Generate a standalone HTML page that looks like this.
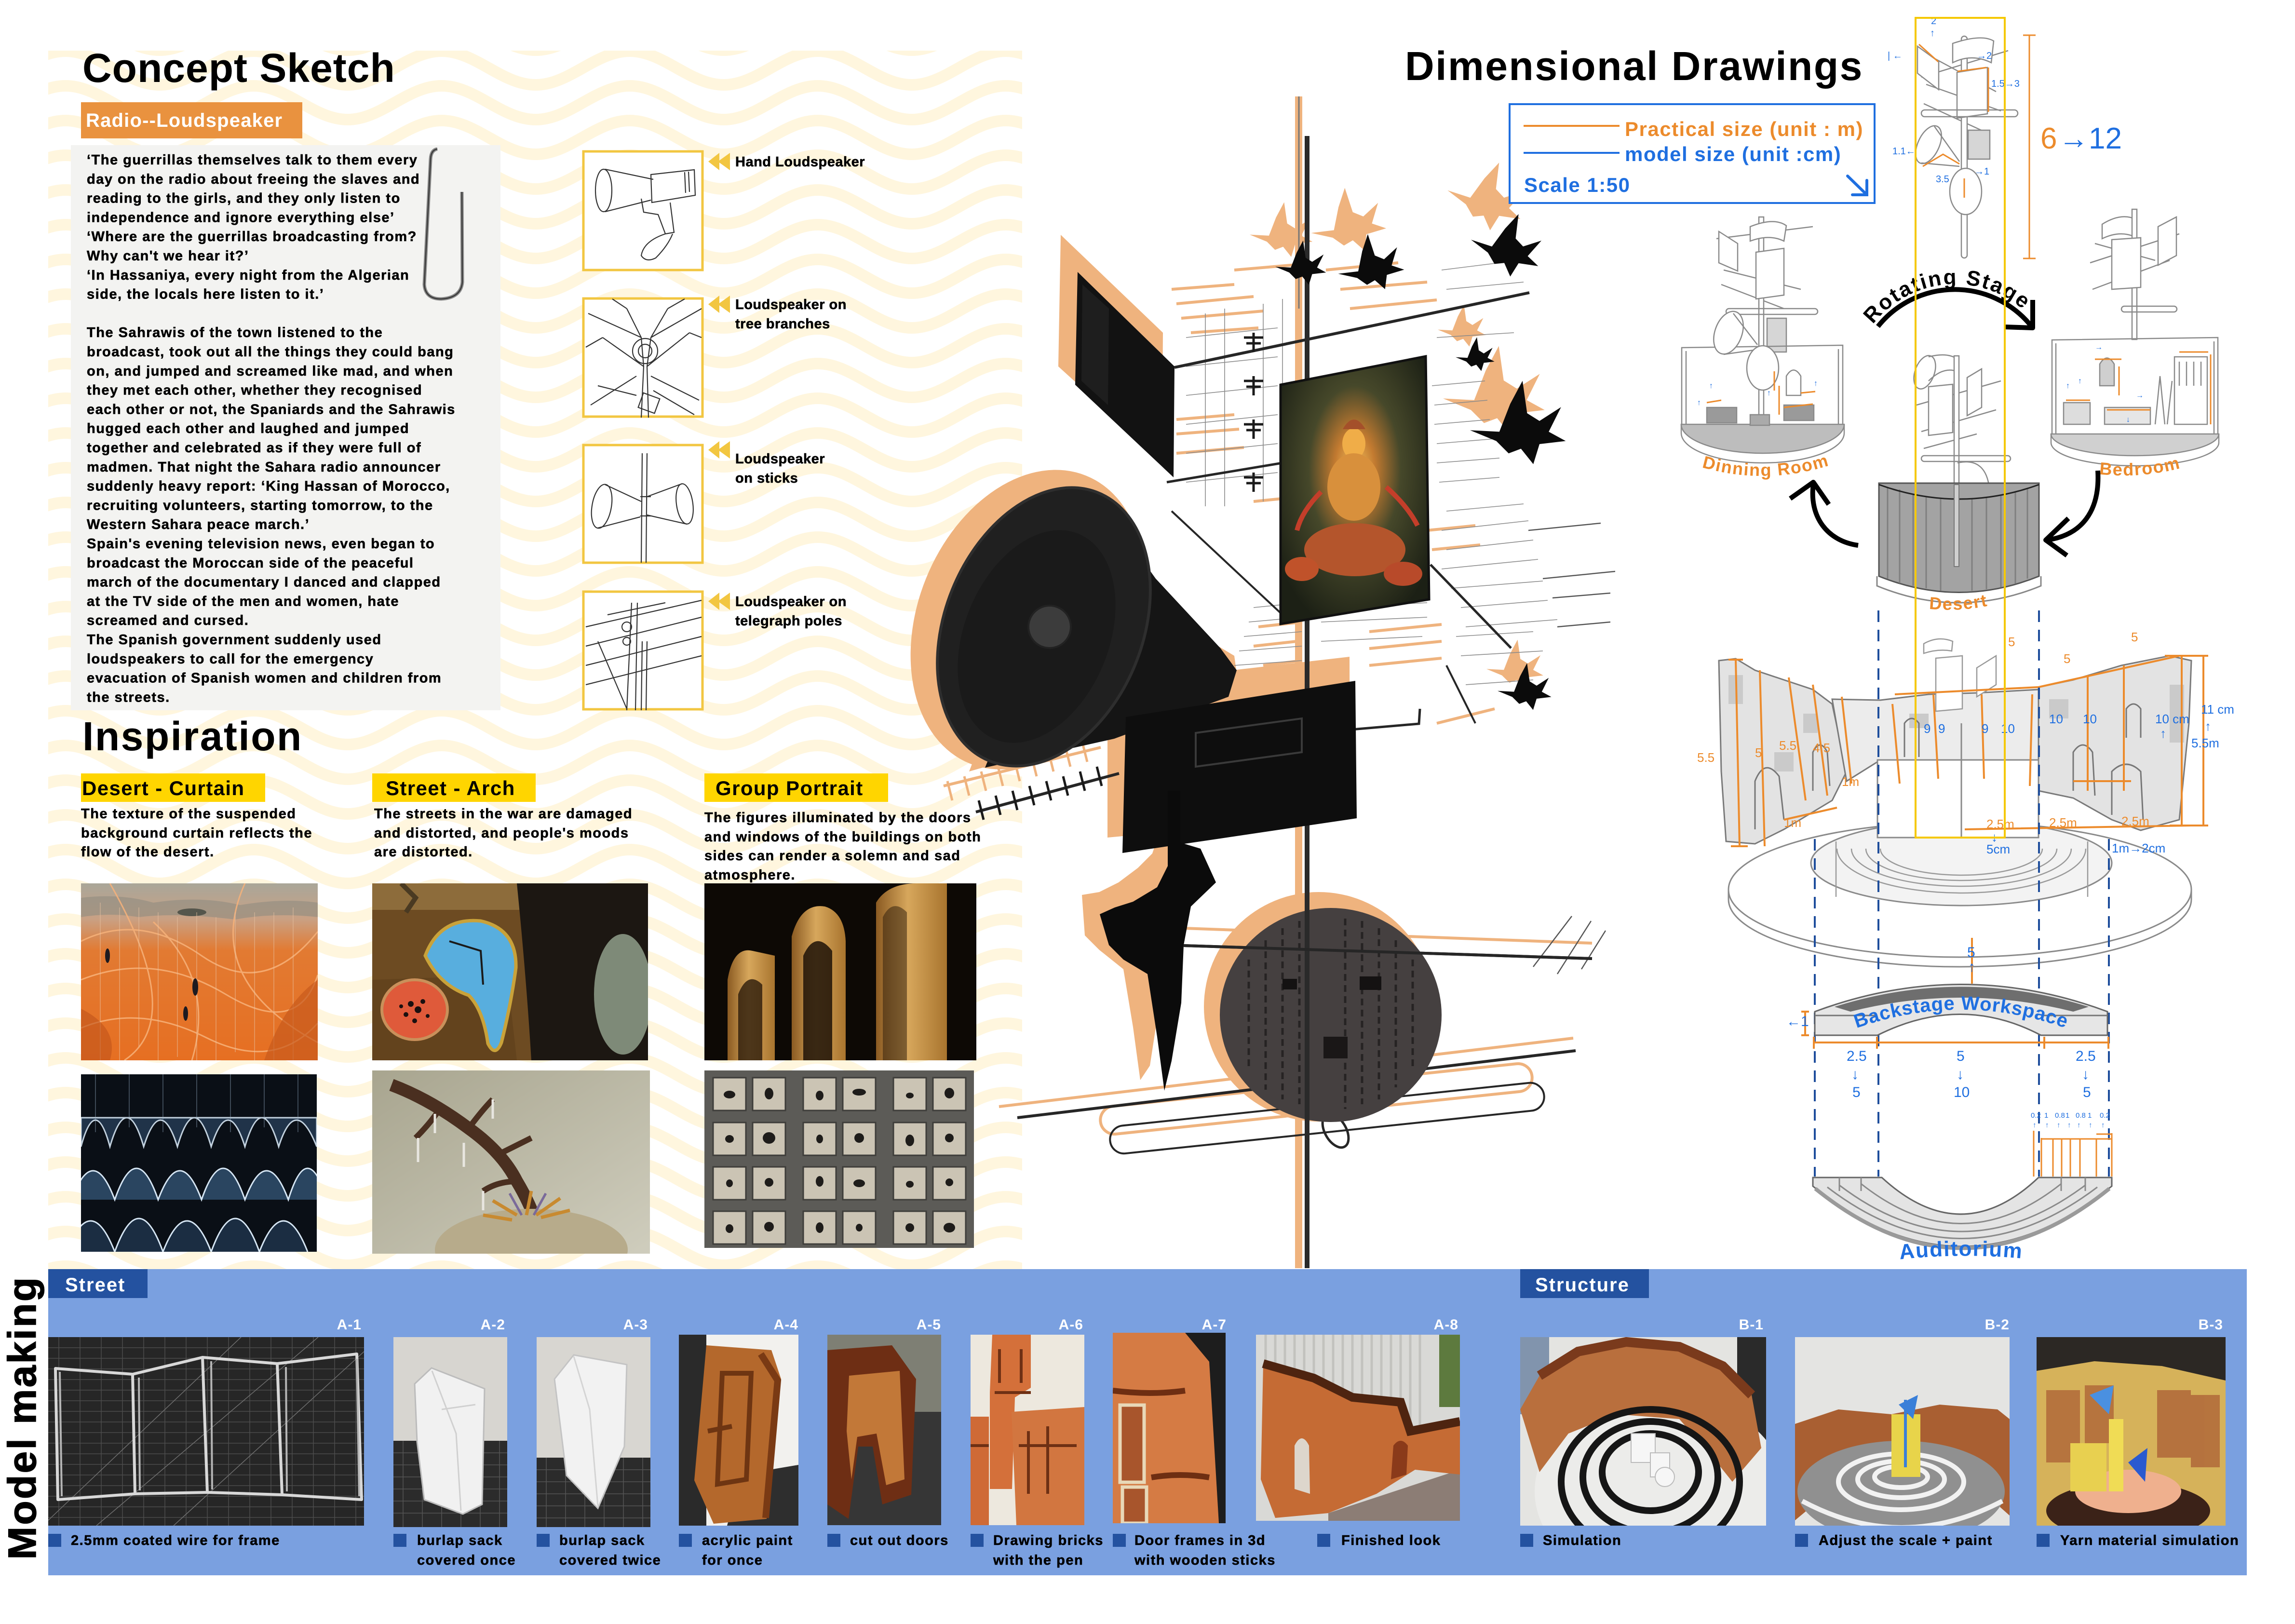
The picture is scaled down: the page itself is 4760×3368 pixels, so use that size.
<!DOCTYPE html>
<html><head><meta charset="utf-8"><title>Concept Sketch</title>
<style>
html,body{margin:0;padding:0;background:#fff;}
body{width:4760px;height:3368px;overflow:hidden;position:relative;}
svg.main{position:absolute;left:0;top:0;display:block;}
text{font-family:"Liberation Sans",Arial,"Noto Sans CJK SC",sans-serif;font-weight:bold;}
.hw{font-weight:normal;}
</style></head><body>
<svg class="main" width="4760" height="3368" viewBox="0 0 4760 3368" xmlns="http://www.w3.org/2000/svg">
<defs>
<pattern id="wv" patternUnits="userSpaceOnUse" x="136" y="105" width="390" height="72">
<path d="M0,1 C70,1 125,71 195,71 C265,71 320,1 390,1 M0,-71 C70,-71 125,-1 195,-1 C265,-1 320,-71 390,-71 M0,73 C70,73 125,143 195,143 C265,143 320,73 390,73" fill="none" stroke="#FFF6DE" stroke-width="24"/>
</pattern>
<radialGradient id="pg" cx="50%" cy="42%" r="62%">
<stop offset="0%" stop-color="#f6c35e"/><stop offset="22%" stop-color="#c27a30"/><stop offset="50%" stop-color="#46482a"/><stop offset="100%" stop-color="#1c2015"/>
</radialGradient>
<linearGradient id="gnet" x1="0" y1="0" x2="0" y2="1">
<stop offset="0%" stop-color="#a9a699"/><stop offset="20%" stop-color="#c9a184"/><stop offset="38%" stop-color="#e27a32"/><stop offset="100%" stop-color="#e66f22"/>
</linearGradient>
<linearGradient id="ggold" x1="0" y1="0" x2="1" y2="0">
<stop offset="0%" stop-color="#8a5a22"/><stop offset="45%" stop-color="#d7a75c"/><stop offset="100%" stop-color="#a8742e"/>
</linearGradient>
<linearGradient id="gbeige" x1="0" y1="0" x2="1" y2="1">
<stop offset="0%" stop-color="#a8a58f"/><stop offset="100%" stop-color="#cfcdbd"/>
</linearGradient>
<path id="bird" d="M-60,-8 L-22,-6 L-8,-42 L8,-72 L14,-30 L30,-20 L58,-38 L42,-6 L64,6 L30,10 L22,36 L6,16 L-10,22 L-26,6 Z"/>
<path id="rsArc" d="M3840,804 A215,215 0 0 1 4270,804"/>
<path id="drArc" d="M3540,972 Q3662,1004 3785,968"/>
<path id="bdArc" d="M4360,984 Q4438,992 4518,972"/>
<path id="dsArc" d="M3995,1262 Q4062,1270 4130,1255"/>
<path id="bsArc" d="M3830,2140 Q4068,2048 4305,2140"/>
<path id="auArc" d="M3920,2614 Q4068,2596 4215,2612"/>
</defs>

<!-- wave background -->
<rect x="100" y="105" width="2020" height="2527" fill="url(#wv)"/>

<!-- ================= CONCEPT SKETCH ================= -->
<text x="171" y="170" font-size="84" letter-spacing="1" fill="#000">Concept Sketch</text>
<rect x="168" y="212" width="459" height="75" fill="#E9923F"/>
<text x="178" y="263" font-size="40" letter-spacing="1.2" fill="#fff">Radio--Loudspeaker</text>

<rect x="147" y="301" width="891" height="1172" fill="#F3F3F1"/>
<path d="M907,309 Q894,311 893,330 L880,590 Q882,620 915,620 Q956,618 959,585 L958,398" fill="none" stroke="#8a8a8a" stroke-width="7"/>
<path d="M907,309 Q894,311 893,330 L880,590 Q882,620 915,620 Q956,618 959,585 L958,398" fill="none" stroke="#3a3a3a" stroke-width="2.5"/>

<text font-size="29" letter-spacing="1.5" fill="#000" stroke="#000" stroke-width="0.6">
<tspan x="180" y="341">‘The guerrillas themselves talk to them every</tspan>
<tspan x="180" y="380.8">day on the radio about freeing the slaves and</tspan>
<tspan x="180" y="420.6">reading to the girls, and they only listen to</tspan>
<tspan x="180" y="460.4">independence and ignore everything else’</tspan>
<tspan x="180" y="500.2">‘Where are the guerrillas broadcasting from?</tspan>
<tspan x="180" y="540">Why can't we hear it?’</tspan>
<tspan x="180" y="579.8">‘In Hassaniya, every night from the Algerian</tspan>
<tspan x="180" y="619.6">side, the locals here listen to it.’</tspan>
<tspan x="180" y="699.2">The Sahrawis of the town listened to the</tspan>
<tspan x="180" y="739">broadcast, took out all the things they could bang</tspan>
<tspan x="180" y="778.8">on, and jumped and screamed like mad, and when</tspan>
<tspan x="180" y="818.6">they met each other, whether they recognised</tspan>
<tspan x="180" y="858.4">each other or not, the Spaniards and the Sahrawis</tspan>
<tspan x="180" y="898.2">hugged each other and laughed and jumped</tspan>
<tspan x="180" y="938">together and celebrated as if they were full of</tspan>
<tspan x="180" y="977.8">madmen. That night the Sahara radio announcer</tspan>
<tspan x="180" y="1017.6">suddenly heavy report: ‘King Hassan of Morocco,</tspan>
<tspan x="180" y="1057.4">recruiting volunteers, starting tomorrow, to the</tspan>
<tspan x="180" y="1097.2">Western Sahara peace march.’</tspan>
<tspan x="180" y="1137">Spain's evening television news, even began to</tspan>
<tspan x="180" y="1176.8">broadcast the Moroccan side of the peaceful</tspan>
<tspan x="180" y="1216.6">march of the documentary I danced and clapped</tspan>
<tspan x="180" y="1256.4">at the TV side of the men and women, hate</tspan>
<tspan x="180" y="1296.2">screamed and cursed.</tspan>
<tspan x="180" y="1336">The Spanish government suddenly used</tspan>
<tspan x="180" y="1375.8">loudspeakers to call for the emergency</tspan>
<tspan x="180" y="1415.6">evacuation of Spanish women and children from</tspan>
<tspan x="180" y="1455.4">the streets.</tspan>
</text>

<!-- loudspeaker sketch boxes -->
<g stroke="#F2C641" stroke-width="5" fill="#fff">
<rect x="1210" y="314" width="247" height="246"/>
<rect x="1210" y="619" width="247" height="245"/>
<rect x="1210" y="923" width="247" height="244"/>
<rect x="1210" y="1227" width="247" height="244"/>
</g>
<g fill="none" stroke="#333" stroke-width="2.2">
<ellipse cx="1252" cy="395" rx="17" ry="44"/>
<path d="M1255,351 L1355,372 M1255,439 L1350,415 M1350,362 L1440,352 L1442,405 L1352,420 Z"/>
<path d="M1330,412 L1335,440 L1365,445 L1380,485 L1398,482 L1390,420"/>
<path d="M1380,485 Q1335,500 1330,530 Q1340,545 1360,535 Q1385,510 1395,485"/>
<path d="M1420,357 L1422,400 M1428,356 L1430,398"/>
<path d="M1330,866 L1335,760 L1330,700 L1300,640 M1345,866 L1342,760 L1350,700 L1385,640 M1335,760 L1250,700 M1342,760 L1430,690 M1330,700 L1220,650 M1350,700 L1455,640 M1320,780 L1225,840 M1350,780 L1450,830 M1300,640 L1270,620 M1385,640 L1420,620 M1250,700 L1215,720 M1430,690 L1455,700 M1320,820 L1240,800 M1355,810 L1440,860"/>
<circle cx="1338" cy="728" r="26"/><circle cx="1338" cy="728" r="14"/>
<rect x="1328" y="820" width="36" height="32" transform="rotate(20 1346 836)"/>
<path d="M1332,940 L1330,1167 M1342,940 L1340,1167 M1328,1030 L1350,1030 M1328,1070 L1350,1070"/>
<ellipse cx="1248" cy="1050" rx="20" ry="46" transform="rotate(10 1248 1050)"/>
<path d="M1255,1005 L1330,1040 M1240,1095 L1328,1072"/>
<ellipse cx="1420" cy="1045" rx="17" ry="42" transform="rotate(-8 1420 1045)"/>
<path d="M1415,1003 L1342,1030 M1425,1087 L1342,1068"/>
<path d="M1300,1473 L1310,1250 M1318,1473 L1322,1250 M1330,1473 L1332,1330 M1340,1473 L1342,1330 M1215,1300 L1455,1245 M1215,1340 L1455,1280 M1215,1380 L1455,1320 M1215,1420 L1455,1360 M1260,1275 L1380,1250 M1240,1330 L1300,1470"/>
<circle cx="1300" cy="1300" r="10"/><circle cx="1300" cy="1330" r="8"/>
</g>
<g fill="#F2C641">
<path d="M1469,335 L1492,317 L1492,353 Z M1489,335 L1514,317 L1514,353 Z"/>
<path d="M1469,631 L1492,613 L1492,649 Z M1489,631 L1514,613 L1514,649 Z"/>
<path d="M1469,933 L1492,915 L1492,951 Z M1489,933 L1514,915 L1514,951 Z"/>
<path d="M1469,1247 L1492,1229 L1492,1265 Z M1489,1247 L1514,1229 L1514,1265 Z"/>
</g>
<g font-size="29" letter-spacing="0.5" fill="#000" stroke="#000" stroke-width="0.6">
<text x="1525" y="345">Hand Loudspeaker</text>
<text x="1525" y="641">Loudspeaker on</text>
<text x="1525" y="681">tree branches</text>
<text x="1525" y="961">Loudspeaker</text>
<text x="1525" y="1001">on sticks</text>
<text x="1525" y="1257">Loudspeaker on</text>
<text x="1525" y="1297">telegraph poles</text>
</g>

<!-- ================= INSPIRATION ================= -->
<text x="171" y="1556" font-size="84" letter-spacing="2.5" fill="#000">Inspiration</text>
<rect x="168" y="1604" width="382" height="59" fill="#FFD500"/>
<rect x="772" y="1604" width="339" height="59" fill="#FFD500"/>
<rect x="1461" y="1604" width="381" height="59" fill="#FFD500"/>
<g font-size="42" letter-spacing="1.4" fill="#000">
<text x="170" y="1649">Desert - Curtain</text>
<text x="800" y="1649">Street - Arch</text>
<text x="1484" y="1649">Group Portrait</text>
</g>
<g font-size="29" letter-spacing="1.5" fill="#000" stroke="#000" stroke-width="0.6">
<text x="168" y="1697">The texture of the suspended</text>
<text x="168" y="1737">background curtain reflects the</text>
<text x="168" y="1776">flow of the desert.</text>
<text x="776" y="1697">The streets in the war are damaged</text>
<text x="776" y="1737">and distorted, and people's moods</text>
<text x="776" y="1776">are distorted.</text>
<text x="1461" y="1705">The figures illuminated by the doors</text>
<text x="1461" y="1745">and windows of the buildings on both</text>
<text x="1461" y="1784">sides can render a solemn and sad</text>
<text x="1461" y="1824">atmosphere.</text>
</g>

<!-- inspiration images -->
<svg x="168" y="1832" width="491" height="367">
<rect width="491" height="367" fill="url(#gnet)"/>
<path d="M0,30 Q80,20 150,40 Q250,25 330,45 Q420,30 491,40 L491,70 Q400,60 320,75 Q200,60 120,70 Q60,60 0,70 Z" fill="#8f8c80" opacity="0.6"/>
<ellipse cx="230" cy="60" rx="30" ry="8" fill="#55564c"/>
<g fill="none" stroke="#f7b27a" stroke-width="3" opacity="0.85">
<path d="M0,120 Q120,60 250,150 T491,100"/><path d="M0,200 Q150,140 300,230 T491,190"/>
<path d="M60,0 Q220,280 90,367"/><path d="M340,0 Q250,200 491,330"/><path d="M150,80 Q280,200 230,367"/>
<path d="M0,300 Q120,250 260,320 T491,290"/>
</g>
<g stroke="#e9c3a3" stroke-width="1.2" opacity="0.7">
<path d="M40,40 V367 M80,50 V367 M120,50 V340 M160,60 V367 M200,70 V360 M240,60 V367 M280,70 V367 M320,60 V350 M360,60 V367 M400,60 V367 M440,50 V367"/>
</g>
<path d="M380,367 Q420,250 491,200 L491,367 Z" fill="#c75a1c" opacity="0.7"/>
<path d="M0,260 Q80,300 60,367 L0,367 Z" fill="#c0541a" opacity="0.6"/>
<g fill="#1d1a20"><ellipse cx="55" cy="150" rx="5" ry="15"/><ellipse cx="237" cy="215" rx="6" ry="18"/><ellipse cx="217" cy="270" rx="5" ry="15"/></g>
</svg>
<svg x="168" y="2228" width="489" height="368">
<rect width="489" height="368" fill="#0a0f16"/>
<g fill="#23384f" stroke="#d6e6f4" stroke-width="3">
<path d="M0,150 Q30,40 60,150 Q95,30 130,150 Q165,40 200,150 Q235,30 270,150 Q305,40 340,150 Q375,30 410,150 Q445,40 489,150 L489,90 L0,90 Z" opacity="0.9"/>
<path d="M-20,260 Q25,140 70,260 Q115,130 160,260 Q205,140 250,260 Q295,130 340,260 Q385,140 430,260 Q470,130 510,260" fill="#2a4560"/>
<path d="M-30,368 Q20,240 70,368 Q120,230 170,368 Q220,240 270,368 Q320,230 370,368 Q420,240 470,368" fill="#1b2d42"/>
</g>
<g stroke="#9fb8cf" stroke-width="1" opacity="0.7"><path d="M30,0 V120 M100,0 V110 M170,0 V120 M240,0 V110 M310,0 V120 M380,0 V110 M450,0 V120"/></g>
</svg>
<svg x="772" y="1832" width="572" height="367">
<rect width="572" height="367" fill="#6d4b22"/>
<rect width="572" height="55" fill="#8d6c3b"/>
<path d="M300,0 L572,0 L572,367 L330,367 Q320,200 300,0 Z" fill="#1c1712"/>
<path d="M0,200 L280,190 L300,367 L0,367 Z" fill="#5e3e1a" opacity="0.6"/>
<path d="M110,150 Q140,70 225,78 Q300,95 298,175 Q288,250 268,330 Q255,362 240,332 Q230,262 200,232 Q140,212 110,150 Z" fill="#58aede" stroke="#c9a23a" stroke-width="7"/>
<path d="M160,120 L225,140 L230,210" fill="none" stroke="#1a1a1a" stroke-width="4"/>
<ellipse cx="88" cy="262" rx="68" ry="62" fill="#df5a3a" stroke="#c9905a" stroke-width="6"/>
<g fill="#1a1010"><circle cx="80" cy="250" r="6"/><circle cx="95" cy="262" r="7"/><circle cx="70" cy="272" r="5"/><circle cx="105" cy="245" r="5"/><circle cx="88" cy="285" r="5"/><circle cx="60" cy="255" r="4"/><circle cx="115" cy="275" r="4"/></g>
<ellipse cx="520" cy="230" rx="60" ry="125" fill="#7e8a78"/>
<path d="M60,0 L90,30 L70,60" fill="none" stroke="#4a3a22" stroke-width="10"/>
</svg>
<svg x="772" y="2220" width="576" height="380">
<rect width="576" height="380" fill="url(#gbeige)"/>
<path d="M40,30 Q120,60 200,120 Q270,170 300,230 Q330,280 345,330" fill="none" stroke="#4a2f20" stroke-width="26"/>
<path d="M200,120 Q230,80 250,60 M140,80 Q120,110 90,140 M270,170 Q310,150 330,140 M300,230 Q260,230 230,250" fill="none" stroke="#4a2f20" stroke-width="12"/>
<g stroke="#e8e6e0" stroke-width="5"><path d="M95,140 V190 M130,90 V130 M250,60 V100 M230,250 V290 M190,150 V200"/></g>
<ellipse cx="330" cy="372" rx="200" ry="85" fill="#b7ab8b"/>
<g stroke="#c88a30" stroke-width="7"><path d="M300,300 L250,270 M320,300 L330,250 M340,300 L390,265 M290,310 L230,300 M350,305 L410,290"/></g>
<g stroke="#7a6a9a" stroke-width="5"><path d="M310,300 L285,255 M335,300 L360,255"/></g>
</svg>
<svg x="1461" y="1832" width="564" height="367">
<rect width="564" height="367" fill="#0d0905"/>
<path d="M48,367 L48,200 Q60,130 100,140 L146,150 L146,367 Z" fill="url(#ggold)"/>
<path d="M181,367 L181,110 Q200,40 250,48 Q290,60 293,120 L293,367 Z" fill="url(#ggold)"/>
<path d="M356,367 L356,40 Q380,0 440,0 L503,0 L503,367 Z" fill="url(#ggold)"/>
<path d="M70,367 L70,230 Q90,180 120,210 L120,367 Z" fill="#2a1a0a" opacity="0.8"/>
<path d="M205,367 L205,150 Q230,95 265,140 L265,367 Z" fill="#1d1207" opacity="0.85"/>
<path d="M370,367 L370,70 Q390,30 420,60 L420,367 Z" fill="#2a1a0a" opacity="0.5"/>
</svg>
<svg x="1461" y="2220" width="559" height="368">
<rect width="559" height="368" fill="#5c5b57"/>
<g fill="#cbc4b4" stroke="#3e3d3a" stroke-width="3">
<rect x="18" y="15" width="68" height="68"/><rect x="100" y="15" width="68" height="68"/><rect x="205" y="15" width="68" height="68"/><rect x="287" y="15" width="68" height="68"/><rect x="392" y="15" width="68" height="68"/><rect x="474" y="15" width="68" height="68"/>
<rect x="18" y="108" width="68" height="68"/><rect x="100" y="108" width="68" height="68"/><rect x="205" y="108" width="68" height="68"/><rect x="287" y="108" width="68" height="68"/><rect x="392" y="108" width="68" height="68"/><rect x="474" y="108" width="68" height="68"/>
<rect x="18" y="200" width="68" height="68"/><rect x="100" y="200" width="68" height="68"/><rect x="205" y="200" width="68" height="68"/><rect x="287" y="200" width="68" height="68"/><rect x="392" y="200" width="68" height="68"/><rect x="474" y="200" width="68" height="68"/>
<rect x="18" y="292" width="68" height="68"/><rect x="100" y="292" width="68" height="68"/><rect x="205" y="292" width="68" height="68"/><rect x="287" y="292" width="68" height="68"/><rect x="392" y="292" width="68" height="68"/><rect x="474" y="292" width="68" height="68"/>
</g>
<g fill="#1e1c1a">
<ellipse cx="52" cy="50" rx="12" ry="8"/><ellipse cx="134" cy="48" rx="9" ry="12"/><ellipse cx="239" cy="52" rx="8" ry="10"/><ellipse cx="321" cy="45" rx="14" ry="7"/><ellipse cx="426" cy="52" rx="8" ry="6"/><ellipse cx="508" cy="47" rx="10" ry="11"/>
<ellipse cx="52" cy="142" rx="9" ry="8"/><ellipse cx="134" cy="140" rx="13" ry="12"/><ellipse cx="239" cy="142" rx="7" ry="9"/><ellipse cx="321" cy="140" rx="10" ry="10"/><ellipse cx="426" cy="145" rx="9" ry="12"/><ellipse cx="508" cy="140" rx="9" ry="9"/>
<ellipse cx="52" cy="234" rx="7" ry="8"/><ellipse cx="134" cy="232" rx="9" ry="9"/><ellipse cx="239" cy="230" rx="8" ry="11"/><ellipse cx="321" cy="234" rx="12" ry="8"/><ellipse cx="426" cy="236" rx="8" ry="7"/><ellipse cx="508" cy="232" rx="8" ry="8"/>
<ellipse cx="52" cy="328" rx="8" ry="9"/><ellipse cx="134" cy="324" rx="10" ry="10"/><ellipse cx="239" cy="326" rx="8" ry="11"/><ellipse cx="321" cy="326" rx="7" ry="8"/><ellipse cx="426" cy="326" rx="9" ry="9"/><ellipse cx="508" cy="326" rx="12" ry="10"/>
</g>
</svg>

<!-- ================= CENTRAL SCULPTURE ================= -->
<g id="sculpture">
<g fill="#EFB37E">
<polygon points="2200,487 2412,690 2410,955 2195,760"/>
<rect x="2686" y="200" width="15" height="2430"/>
<ellipse cx="2132" cy="1285" rx="228" ry="322" transform="rotate(22 2132 1285)"/>
<polygon points="2240,1010 2370,1180 2510,1330 2560,1360 2575,1470 2290,1520 2010,1600"/>
<polygon points="2297,1420 2799,1362 2800,1690 2297,1737"/>
<circle cx="2735" cy="2088" r="238"/>
<polygon points="2400,1740 2450,1760 2480,1830 2430,1880 2410,1960 2405,2080 2385,2210 2365,2240 2350,2130 2330,2010 2280,1970 2250,1940 2244,1856 2280,1850 2320,1830 2360,1800 2390,1770"/>
<use href="#bird" transform="translate(2655,495) scale(1.05)"/>
<use href="#bird" transform="translate(2795,480) scale(1.25) rotate(-10)"/>
<use href="#bird" transform="translate(3075,425) scale(1.3) rotate(15)"/>
<use href="#bird" transform="translate(3030,690) scale(0.8)"/>
<use href="#bird" transform="translate(3095,840) scale(1.7)"/>
<use href="#bird" transform="translate(3140,1395) scale(0.95)"/>
</g>
<g stroke="#EFB37E" stroke-width="6" fill="none">
<path d="M2430,600 L2560,590 M2440,630 L2600,615 M2450,660 L2620,645 M2470,690 L2610,680 M2560,560 L2700,548 M2750,560 L2900,545 M2780,600 L2960,585 M2800,640 L2980,622 M2440,870 L2560,860 M2440,900 L2570,890 M2440,940 L2580,928 M2600,1040 L2700,1030"/>
<path d="M2455,1925 L3302,1956 M2072,2295 L3263,2153 M1957,1630 L2283,1550 M2840,1310 L2990,1295 M2840,1345 L2990,1330 M2840,1380 L2990,1365 M2980,1500 L3100,1470"/>
<path d="M2610,1300 L2700,1290 M2600,1340 L2690,1330 M2620,1380 L2700,1370 M2960,1100 L3060,1090 M2970,1140 L3070,1130"/>
<rect x="2280" y="2250" width="900" height="58" rx="29" transform="rotate(-6 2730 2279)"/>
</g>
<g stroke="#EFB37E" stroke-width="5"><path d="M1975,1660 L1965,1620 M2010,1650 L2000,1610 M2045,1640 L2035,1600 M2080,1630 L2070,1590 M2115,1620 L2105,1580 M2150,1610 L2140,1570 M2185,1600 L2175,1560 M2220,1590 L2210,1550 M2255,1580 L2245,1540"/></g>

<g stroke="#8a8a8a" stroke-width="1.6" fill="none">
<path d="M2500,650 V1050 M2540,640 V1050 M2620,630 V1040 M2660,620 V1000 M2460,700 L2650,680 M2460,760 L2650,740 M2460,820 L2650,800 M2460,880 L2650,860 M2460,940 L2650,920 M2460,1000 L2650,980"/>
<path d="M2990,560 L3150,540 M3000,600 L3160,585 M2980,700 L3140,690 M3000,1060 L3160,1045 M2990,1100 L3170,1080 M3000,1140 L3180,1120 M2990,1180 L3190,1160 M3010,1220 L3200,1205 M3030,1260 L3210,1245 M3040,1300 L3230,1285"/>
<path d="M2970,800 L3080,790 M2975,840 L3085,830 M2975,880 L3090,870 M2980,920 L3100,910 M2980,960 L3110,950 M2985,1000 L3110,990"/>
<path d="M2600,1260 L2700,1250 M2590,1290 L2700,1280 M2580,1320 L2700,1310 M2570,1350 L2700,1340 M2560,1380 L2700,1370 M2740,1260 L2960,1250 M2740,1290 L2960,1280 M2740,1330 L2950,1320"/>
<path d="M3020,1320 L3180,1310 M3030,1360 L3200,1350 M3040,1420 L3180,1410"/>
</g>
<g stroke="#262626" fill="none">
<path d="M2436,762 L3172,607" stroke-width="6"/>
<path d="M2420,1000 L2660,960" stroke-width="5"/>
<path d="M2430,1060 L2660,1275" stroke-width="4"/>
<path d="M2967,1171 L3134,1344" stroke-width="5"/>
<path d="M3000,1380 L3060,1500" stroke-width="4"/>
<path d="M2455,1961 L3302,1988" stroke-width="6"/>
<path d="M2110,2318 L3268,2179" stroke-width="6"/>
<path d="M2024,1684 L2321,1604" stroke-width="6"/>
<path d="M2732,1519 L2943,1501 L2945,1470" stroke-width="5"/>
<rect x="2300" y="2290" width="905" height="58" rx="29" transform="rotate(-6 2752 2319)" stroke-width="4"/>
<ellipse cx="2770" cy="2345" rx="22" ry="38" transform="rotate(-30 2770 2345)" stroke-width="5"/>
</g>
<g stroke="#1a1a1a" stroke-width="5"><path d="M2040,1700 L2030,1660 M2075,1690 L2065,1650 M2110,1680 L2100,1640 M2145,1670 L2135,1630 M2180,1660 L2170,1620 M2215,1650 L2205,1610 M2250,1640 L2240,1600 M2285,1630 L2275,1590"/>
<path d="M2580,700 L2620,700 M2585,712 L2615,712 M2580,790 L2620,790 M2585,802 L2615,802 M2580,880 L2620,880 M2585,892 L2615,892 M2580,990 L2620,990 M2585,1002 L2615,1002 M2600,690 V730 M2600,780 V820 M2600,870 V910 M2600,980 V1020"/></g>
<g stroke="#555" stroke-width="2.5"><path d="M3170,1100 L3320,1085 M3200,1200 L3350,1185 M3220,1240 L3340,1230 M3230,1300 L3340,1290 M3180,2005 L3260,1900 M3230,2020 L3300,1910 M3280,2010 L3330,1930"/></g>

<polygon points="2235,564 2436,760 2434,990 2230,798" fill="#121212"/>
<polygon points="2245,590 2300,640 2298,840 2243,790" fill="#1e1e1e"/>
<polygon points="2275,1030 2397,1200 2531,1344 2565,1390 2548,1445 2311,1532 2043,1592" fill="#151515"/>
<ellipse cx="2165" cy="1300" rx="205" ry="300" transform="rotate(22 2165 1300)" fill="#202020" stroke="#2e2e2e" stroke-width="6"/>
<ellipse cx="2150" cy="1320" rx="150" ry="230" transform="rotate(22 2150 1320)" fill="#1a1a1a"/>
<circle cx="2177" cy="1300" r="44" fill="#3c3c3c" stroke="#222" stroke-width="4"/>
<rect x="2706" y="282" width="10" height="2348" fill="#2a2a2a"/>
<line x1="2694" y1="200" x2="2694" y2="640" stroke="#777" stroke-width="3"/>
<polygon points="2656,798 2957,739 2964,1243 2656,1294" fill="url(#pg)" stroke="#111" stroke-width="5"/>
<g>
<ellipse cx="2808" cy="920" rx="24" ry="32" fill="#f0ad48"/>
<path d="M2785,890 Q2808,850 2832,890 Z" fill="#a4502a"/>
<ellipse cx="2808" cy="1010" rx="55" ry="70" fill="#d8903c"/>
<ellipse cx="2810" cy="1140" rx="105" ry="55" fill="#b4552c"/>
<path d="M2740,1020 Q2700,1060 2690,1100 M2875,1010 Q2920,1050 2940,1090" stroke="#c43e2a" stroke-width="10" fill="none"/>
<ellipse cx="2700" cy="1180" rx="35" ry="25" fill="#c0522a"/>
<ellipse cx="2910" cy="1190" rx="40" ry="25" fill="#b84a2a"/>
</g>
<polygon points="2335,1487 2811,1412 2814,1697 2328,1769" fill="#0e0e0e"/>
<path d="M2480,1520 L2700,1490 L2700,1560 L2480,1590 Z" fill="none" stroke="#3a3a3a" stroke-width="4"/>
<polygon points="2440,1745 2490,1760 2522,1830 2470,1880 2455,1960 2450,2080 2430,2200 2415,2262 2400,2150 2380,2020 2330,1990 2300,1960 2281,1896 2312,1882 2350,1870 2400,1840 2425,1790" fill="#0b0b0b"/>
<rect x="2422" y="1640" width="26" height="160" fill="#0b0b0b"/>
<!-- disc -->
<ellipse cx="2760" cy="2105" rx="230" ry="222" fill="#454040"/>
<g stroke="#1c1a1a" stroke-width="5" stroke-dasharray="14,9" opacity="0.75">
<path d="M2590,1990 V2220 M2625,1950 V2260 M2660,1925 V2280 M2695,1910 V2290 M2790,1905 V2300 M2825,1910 V2290 M2860,1925 V2280 M2895,1950 V2255 M2930,1990 V2220"/>
</g>
<rect x="2660" y="2030" width="30" height="22" fill="#141212"/>
<rect x="2820" y="2025" width="45" height="28" fill="#141212"/>
<rect x="2745" y="2150" width="50" height="45" fill="#1a1717"/>
<rect x="2706" y="1880" width="10" height="450" fill="#2a2a2a"/>
<path d="M2455,1961 L3302,1988" stroke="#262626" stroke-width="6"/>
<g fill="#0b0b0b">
<use href="#bird" transform="translate(2696,560) scale(0.85)"/>
<use href="#bird" transform="translate(2842,565) scale(1.1) rotate(-10)"/>
<use href="#bird" transform="translate(3118,525) scale(1.2) rotate(15)"/>
<use href="#bird" transform="translate(3058,746) scale(0.65)"/>
<use href="#bird" transform="translate(3145,905) scale(1.6)"/>
<use href="#bird" transform="translate(3160,1440) scale(0.9)"/>
</g>
</g>

<!-- ================= DIMENSIONAL DRAWINGS ================= -->
<text x="2914" y="166" font-size="84" letter-spacing="2.5" fill="#000">Dimensional Drawings</text>
<rect x="3131" y="216" width="757" height="205" fill="#fff" stroke="#1F6FE0" stroke-width="4"/>
<line x1="3160" y1="261" x2="3359" y2="261" stroke="#EC8B2C" stroke-width="4"/>
<line x1="3160" y1="317" x2="3359" y2="317" stroke="#1F6FE0" stroke-width="4"/>
<text x="3370" y="282" font-size="42" letter-spacing="1.5" fill="#EC8B2C">Practical size (unit : m)</text>
<text x="3370" y="334" font-size="42" letter-spacing="1.5" fill="#1F6FE0">model size (unit :cm)</text>
<text x="3161" y="398" font-size="42" letter-spacing="1.5" fill="#1F6FE0">Scale 1:50</text>
<path d="M3832,365 L3872,404 M3872,374 L3872,404 L3842,404" fill="none" stroke="#1F6FE0" stroke-width="6" stroke-linecap="round"/>

<!-- top tower -->
<g fill="#fff" stroke="#8a8a8a" stroke-width="2.5">
<path d="M3985,160 L4165,105 M3995,175 L4150,230 M3990,215 L4120,275 M4010,120 L4140,190" fill="none"/>
<polygon points="3977,96 4021,128 4021,186 3977,152"/>
<rect x="4068" y="75" width="12" height="460" rx="6"/>
<path d="M4050,90 Q4110,70 4135,85 L4130,130 Q4090,110 4050,130 Z"/>
<polygon points="4059,150 4122,140 4122,236 4059,245"/>
<rect x="3985" y="228" width="200" height="14" rx="7" fill="none"/>
<rect x="4082" y="270" width="45" height="60" fill="#d6d6d6"/>
<ellipse cx="4000" cy="300" rx="22" ry="42" transform="rotate(25 4000 300)"/>
<path d="M4012,262 L4064,335 M3985,338 L4064,345" fill="none"/>
<ellipse cx="4077" cy="397" rx="33" ry="48"/>
</g>
<g stroke="#EC8B2C" stroke-width="3" fill="none">
<path d="M3980,92 L4020,128 M4060,148 L4120,140 M4124,140 L4124,232 M3988,345 L4030,320 L4064,340 M4074,370 L4074,410"/>
<path d="M4209,73 V536 M4196,73 H4222 M4196,536 H4222"/>
</g>
<g class="hw" fill="#1F6FE0" font-size="20">
<text x="4005" y="50" class="hw">2</text><text x="4003" y="75" class="hw">↑</text>
<text x="3915" y="122" class="hw">| ←</text><text x="4100" y="122" class="hw">→2</text>
<text x="4130" y="180" class="hw">1.5→3</text>
<text x="3925" y="320" class="hw">1.1←</text><text x="4015" y="378" class="hw">3.5</text>
<text x="4095" y="362" class="hw">→1</text>
</g>
<text x="4232" y="308" class="hw" font-size="62" fill="#EC8B2C">6</text>
<text x="4270" y="308" class="hw" font-size="62" fill="#1F6FE0">→12</text>

<!-- rotating stage -->
<path d="M3895,677 A204,204 0 0 1 4216,680" fill="none" stroke="#000" stroke-width="10"/>
<path d="M4157,678 L4216,680 L4216,622" fill="none" stroke="#000" stroke-width="10" stroke-linejoin="round"/>
<text font-size="44" letter-spacing="3" fill="#000"><textPath href="#rsArc" startOffset="47%" text-anchor="middle">Rotating Stage</textPath></text>

<!-- dining room -->
<g fill="#fff" stroke="#8a8a8a" stroke-width="2.5">
<path d="M3560,495 L3760,470 M3575,560 L3735,600 M3570,590 L3700,640" fill="none"/>
<polygon points="3565,480 3604,505 3604,562 3565,545"/>
<rect x="3648" y="450" width="10" height="420"/>
<path d="M3630,470 Q3680,450 3705,468 L3700,500 Q3670,485 3630,500 Z"/>
<polygon points="3642,523 3700,515 3700,612 3642,620"/>
<rect x="3580" y="640" width="190" height="12" rx="6" fill="none"/>
<rect x="3665" y="660" width="40" height="70" fill="#d6d6d6"/>
<path d="M3488,880 L3488,721 L3822,716 L3822,880" fill="none"/>
<path d="M3497,880 L3497,728 M3813,880 L3813,724" fill="none"/>
<path d="M3487,880 A169,60 0 0 0 3825,880 Z" fill="#bdbdbd"/>
<path d="M3487,880 L3487,898 A169,62 0 0 0 3825,898 L3825,880" fill="none"/>
<ellipse cx="3585" cy="690" rx="28" ry="46" transform="rotate(20 3585 690)"/>
<path d="M3595,650 L3645,715 M3575,735 L3645,725" fill="none"/>
<ellipse cx="3656" cy="763" rx="33" ry="46"/>
<rect x="3540" y="845" width="62" height="32" fill="#9a9a9a"/>
<rect x="3700" y="840" width="62" height="32" fill="#9a9a9a"/>
<rect x="3630" y="860" width="40" height="22" fill="#aaa"/>
<path d="M3705,820 L3705,780 Q3720,755 3735,780 L3735,820 Z"/>
</g>
<g stroke="#EC8B2C" stroke-width="3" fill="none"><path d="M3540,835 L3570,830 M3690,800 V860 M3700,845 L3760,838 M3735,815 L3765,812 M3680,770 V810"/></g>
<g fill="#1F6FE0" class="hw" font-size="16"><text x="3545" y="805" class="hw">↑</text><text x="3520" y="840" class="hw">↑</text><text x="3762" y="800" class="hw">↑</text><text x="3665" y="820" class="hw">↑</text></g>
<text font-size="36" letter-spacing="2" fill="#EC8B2C"><textPath href="#drArc" startOffset="50%" text-anchor="middle">Dinning Room</textPath></text>

<!-- bedroom -->
<g fill="#fff" stroke="#8a8a8a" stroke-width="2.5">
<path d="M4335,545 L4520,485 M4340,600 L4500,540 M4345,505 L4470,540" fill="none"/>
<path d="M4360,465 Q4400,440 4430,455 L4425,490 Q4395,478 4360,495 Z"/>
<rect x="4422" y="434" width="10" height="270"/>
<polygon points="4476,470 4514,450 4514,530 4476,550"/>
<polygon points="4380,497 4440,493 4440,596 4380,600"/>
<rect x="4400" y="635" width="115" height="12" rx="6" fill="none"/>
<path d="M4256,900 L4256,705 L4600,700 L4600,900" fill="none"/>
<path d="M4264,900 L4264,712 M4592,900 L4592,708" fill="none"/>
<path d="M4254,900 A174,45 0 0 0 4602,900 Z" fill="#d0d0d0"/>
<path d="M4254,900 L4254,918 A174,48 0 0 0 4602,918 L4602,900" fill="none"/>
<rect x="4510" y="740" width="68" height="140"/>
<path d="M4520,750 V800 M4535,750 V800 M4550,750 V800 M4565,750 V800" fill="none"/>
<path d="M4355,800 L4355,755 Q4370,730 4385,755 L4385,800 Z" fill="#cfcfcf"/>
<rect x="4280" y="835" width="55" height="45" fill="#ddd"/>
<rect x="4365" y="845" width="95" height="35" fill="#e6e6e6"/>
<path d="M4470,880 L4480,780 L4490,880 M4495,880 L4505,790" fill="none"/>
</g>
<g stroke="#EC8B2C" stroke-width="3" fill="none"><path d="M4345,745 H4400 M4520,730 H4580 M4585,735 V880 M4285,830 H4335 M4370,850 H4460 M4395,760 V820"/></g>
<g fill="#1F6FE0" class="hw" font-size="16"><text x="4345" y="725" class="hw">→</text><text x="4285" y="805" class="hw">↑</text><text x="4310" y="795" class="hw">↑</text><text x="4430" y="825" class="hw">→</text><text x="4410" y="875" class="hw">↓</text></g>
<text font-size="36" letter-spacing="2" fill="#EC8B2C"><textPath href="#bdArc" startOffset="50%" text-anchor="middle">Bedroom</textPath></text>

<!-- desert -->
<g fill="#fff" stroke="#8a8a8a" stroke-width="2.5">
<path d="M3975,840 L4150,790 M3985,895 L4140,850 M3990,930 L4100,900" fill="none"/>
<ellipse cx="3992" cy="772" rx="20" ry="36" transform="rotate(20 3992 772)"/>
<path d="M4000,740 Q4040,730 4060,745 L4058,770 Q4030,760 4000,790" fill="none"/>
<rect x="4053" y="738" width="10" height="440"/>
<polygon points="4080,783 4110,765 4110,845 4080,862"/>
<polygon points="4000,802 4050,797 4050,897 4000,903"/>
<rect x="3985" y="945" width="185" height="12" rx="6" fill="none"/>
<path d="M4060,960 Q4115,948 4125,1005" fill="none"/>
</g>
<path d="M3897,1002 L4229,1002 L4229,1195 Q4063,1262 3897,1195 Z" fill="#a3a3a3" stroke="#555" stroke-width="3"/>
<g stroke="#777" stroke-width="3" opacity="0.8"><path d="M3915,1010 V1200 M3940,1015 V1210 M3968,1025 V1215 M3995,1030 V1220 M4025,1035 V1225 M4090,1035 V1225 M4120,1032 V1222 M4150,1028 V1218 M4180,1020 V1210 M4205,1012 V1200"/></g>
<path d="M3897,1005 Q4063,1065 4229,1005" fill="none" stroke="#222" stroke-width="3"/>
<rect x="4053" y="1005" width="10" height="170" fill="#cfcfcf" stroke="#777" stroke-width="2"/>
<path d="M3893,1195 L3893,1215 Q4063,1285 4233,1215 L4233,1195" fill="none" stroke="#888" stroke-width="3"/>
<text font-size="36" letter-spacing="2" fill="#EC8B2C"><textPath href="#dsArc" startOffset="50%" text-anchor="middle">Desert</textPath></text>

<!-- black cycle arrows -->
<path d="M3854,1131 C3790,1122 3752,1072 3761,1004" fill="none" stroke="#000" stroke-width="10"/>
<path d="M3713,1034 L3761,1000 L3793,1046" fill="none" stroke="#000" stroke-width="10" stroke-linejoin="round"/>
<path d="M4351,976 C4356,1060 4318,1110 4245,1120" fill="none" stroke="#000" stroke-width="10"/>
<path d="M4290,1075 L4243,1120 L4287,1152" fill="none" stroke="#000" stroke-width="10" stroke-linejoin="round"/>

<!-- lower panorama -->
<ellipse cx="4065" cy="1845" rx="480" ry="140" fill="#fff" stroke="#8a8a8a" stroke-width="3"/>
<path d="M3585,1845 L3585,1865 A480,140 0 0 0 4545,1865 L4545,1845" fill="none" stroke="#8a8a8a" stroke-width="3"/>
<ellipse cx="4068" cy="1790" rx="312" ry="88" fill="#f3f3f3" stroke="#8a8a8a" stroke-width="3"/>
<g fill="none" stroke="#9a9a9a" stroke-width="2.5">
<path d="M3810,1760 A258,92 0 0 0 4326,1760"/><path d="M3840,1760 A228,78 0 0 0 4296,1760"/><path d="M3870,1760 A198,66 0 0 0 4266,1760"/><path d="M3900,1760 A168,55 0 0 0 4236,1760"/>
<path d="M3808,1745 V1860 M4330,1745 V1860"/>
</g>
<polygon points="3565,1370 3600,1366 3640,1390 3700,1410 3760,1430 3800,1460 3830,1600 3800,1660 3700,1720 3640,1750 3580,1745 3570,1600" fill="#e3e3e3" stroke="#7a7a7a" stroke-width="3"/>
<polygon points="3800,1450 3900,1452 4000,1440 4100,1437 4228,1430 4228,1580 3894,1580 3830,1620" fill="#ececec" stroke="#7a7a7a" stroke-width="3"/>
<polygon points="4228,1425 4300,1410 4400,1380 4500,1360 4545,1370 4540,1500 4520,1700 4440,1722 4380,1700 4300,1655 4228,1640" fill="#e3e3e3" stroke="#7a7a7a" stroke-width="3"/>
<g fill="#cacaca"><rect x="3585" y="1400" width="30" height="60"/><rect x="3740" y="1480" width="30" height="40"/><rect x="3960" y="1480" width="40" height="30"/><rect x="4250" y="1450" width="40" height="40"/><rect x="4500" y="1420" width="30" height="120"/><rect x="3680" y="1560" width="40" height="40"/></g>
<g fill="none" stroke="#777" stroke-width="3">
<path d="M3640,1720 L3640,1620 Q3660,1570 3690,1610 L3700,1700"/><path d="M3760,1640 L3760,1560 Q3775,1530 3790,1560 L3795,1630"/>
<path d="M3950,1570 L3950,1500 Q3965,1480 3980,1500 L3980,1570"/><path d="M4300,1640 L4300,1560 Q4320,1530 4340,1560 L4345,1650"/>
<path d="M4380,1690 L4380,1600 Q4410,1570 4440,1600 L4445,1700"/><path d="M4410,1530 L4410,1470 Q4425,1450 4440,1470 L4440,1530"/>
</g>
<rect x="3894" y="1576" width="334" height="161" fill="#fff" stroke="#8a8a8a" stroke-width="3"/>
<line x1="4068" y1="1500" x2="4068" y2="1737" stroke="#8a8a8a" stroke-width="3"/>
<g fill="#fff" stroke="#999" stroke-width="2.5">
<polygon points="4015,1365 4070,1360 4070,1470 4015,1475"/>
<path d="M3990,1335 Q4020,1318 4050,1330 L4048,1350 Q4020,1345 3990,1355 Z"/>
<polygon points="4100,1385 4140,1360 4140,1420 4100,1445"/>
</g>
<g stroke="#EC8B2C" stroke-width="4" fill="none">
<path d="M3600,1368 L3608,1755 M3585,1368 H3615 M3590,1755 H3625 M3650,1390 L3660,1755 M3710,1405 L3745,1660 M3760,1420 L3790,1650 M3820,1445 L3840,1625"/>
<path d="M3925,1460 L3940,1625 M4010,1440 L4020,1615 M4110,1440 L4115,1615 M4215,1440 L4210,1630 M4330,1400 L4330,1640 M4405,1380 L4405,1640 M4525,1360 L4525,1712"/>
<path d="M4075,1720 L4545,1712 M4228,1425 L4520,1360 M3930,1440 L4228,1425 M4490,1360 H4580 M4500,1712 H4580 M4570,1360 V1712"/>
<path d="M4300,1620 H4420 M3810,1675 L3700,1700"/>
</g>
<g fill="#EC8B2C" class="hw" font-size="26">
<text x="3520" y="1580" class="hw">5.5</text><text x="3640" y="1570" class="hw">5</text><text x="3690" y="1555" class="hw">5.5</text>
<text x="3760" y="1560" class="hw">4.5</text><text x="3820" y="1630" class="hw">1m</text><text x="3700" y="1715" class="hw">1m</text>
<text x="4165" y="1340" class="hw">5</text><text x="4280" y="1375" class="hw">5</text><text x="4420" y="1330" class="hw">5</text>
<text x="4120" y="1718" class="hw">2.5m</text><text x="4250" y="1715" class="hw">2.5m</text><text x="4400" y="1712" class="hw">2.5m</text>
</g>
<g fill="#1F6FE0" class="hw" font-size="26">
<text x="4565" y="1480" class="hw">11 cm</text><text x="4573" y="1515" class="hw">↑</text><text x="4545" y="1550" class="hw">5.5m</text>
<text x="4470" y="1500" class="hw">10 cm</text><text x="4480" y="1530" class="hw">↑</text>
<text x="4120" y="1770" class="hw">5cm</text><text x="4130" y="1745" class="hw">↓</text>
<text x="4380" y="1768" class="hw">1m→2cm</text>
<text x="3990" y="1520" class="hw">9</text><text x="4020" y="1520" class="hw">9</text><text x="4110" y="1520" class="hw">9</text><text x="4150" y="1520" class="hw">10</text><text x="4250" y="1500" class="hw">10</text><text x="4320" y="1500" class="hw">10</text>
</g>

<g stroke="#1F4E9C" stroke-width="4" stroke-dasharray="24,16">
<line x1="3896" y1="1266" x2="3896" y2="2440"/>
<line x1="4229" y1="1266" x2="4229" y2="2440"/>
<line x1="3764" y1="1740" x2="3764" y2="2440"/>
<line x1="4374" y1="1740" x2="4374" y2="2440"/>
</g>

<!-- backstage -->
<path d="M3764,2098 Q4068,1985 4371,2098 L4371,2147 L4233,2147 Q4068,2060 3894,2147 L3764,2147 Z" fill="#e6e6e6" stroke="#666" stroke-width="3"/>
<path d="M3805,2088 Q4068,2005 4332,2088 L4300,2098 Q4068,2040 3838,2098 Z" fill="#6e6e6e"/>
<path d="M3764,2106 H3890 M4238,2106 H4371" stroke="#777" stroke-width="3"/>
<text font-size="40" letter-spacing="1" fill="#1F6FE0"><textPath href="#bsArc" startOffset="50%" text-anchor="middle">Backstage Workspace</textPath></text>
<g stroke="#EC8B2C" stroke-width="4" fill="none">
<path d="M3762,2162 H4373 M3762,2150 V2175 M3893,2150 V2175 M4240,2150 V2175 M4373,2150 V2175"/>
<path d="M3744,2098 V2147 M3736,2098 H3752 M3736,2147 H3752 M4090,1945 V2040"/>
</g>
<g fill="#1F6FE0" class="hw" font-size="30">
<text x="3705" y="2128" class="hw">←1</text>
<text x="4080" y="1985" class="hw">5</text><text x="4082" y="2015" class="hw">↑</text>
<text x="3830" y="2200" class="hw">2.5</text><text x="3840" y="2238" class="hw">↓</text><text x="3842" y="2275" class="hw">5</text>
<text x="4058" y="2200" class="hw">5</text><text x="4058" y="2238" class="hw">↓</text><text x="4052" y="2275" class="hw">10</text>
<text x="4305" y="2200" class="hw">2.5</text><text x="4318" y="2238" class="hw">↓</text><text x="4320" y="2275" class="hw">5</text>
</g>

<!-- auditorium -->
<path d="M3760,2442 L3903,2442 Q4068,2594 4228,2442 L4380,2442 L4380,2460 Q4070,2710 3760,2460 Z" fill="#e4e4e4" stroke="#666" stroke-width="3"/>
<g fill="none" stroke="#8a8a8a" stroke-width="3">
<path d="M3860,2455 Q4068,2620 4275,2455"/><path d="M3815,2458 Q4068,2650 4325,2458"/><path d="M3790,2462 Q4068,2675 4350,2462"/>
<path d="M3860,2442 V2470 M3815,2442 V2470 M4275,2442 V2470 M4325,2442 V2470"/>
</g>
<path d="M3765,2465 Q4070,2712 4375,2465" fill="none" stroke="#9a9a9a" stroke-width="8"/>
<g stroke="#EC8B2C" stroke-width="3" fill="none">
<path d="M4218,2345 V2440 M4234,2360 V2440 M4258,2362 V2440 M4276,2362 V2440 M4294,2362 V2440 M4314,2362 V2440 M4348,2362 V2440 M4380,2350 V2440 M4234,2362 H4380 M4348,2352 H4380"/>
</g>
<g fill="#1F6FE0" class="hw" font-size="15">
<text x="4212" y="2318" class="hw">0.2</text><text x="4240" y="2318" class="hw">1</text><text x="4262" y="2318" class="hw">0.8</text><text x="4284" y="2318" class="hw">1</text><text x="4305" y="2318" class="hw">0.8</text><text x="4330" y="2318" class="hw">1</text><text x="4355" y="2318" class="hw">0.2</text>
<text x="4216" y="2338" class="hw">↑</text><text x="4242" y="2338" class="hw">↑</text><text x="4266" y="2338" class="hw">↑</text><text x="4288" y="2338" class="hw">↑</text><text x="4308" y="2338" class="hw">↑</text><text x="4332" y="2338" class="hw">↑</text><text x="4358" y="2338" class="hw">↑</text>
</g>
<text font-size="44" letter-spacing="2" fill="#1F6FE0"><textPath href="#auArc" startOffset="50%" text-anchor="middle">Auditorium</textPath></text>

<rect x="3973" y="37" width="185" height="1700" fill="none" stroke="#F5C800" stroke-width="4"/>

<!-- ================= MODEL MAKING ================= -->
<rect x="100" y="2632" width="4560" height="635" fill="#7AA0E0"/>
<rect x="100" y="2632" width="206" height="60" fill="#2452A0"/>
<rect x="3153" y="2632" width="267" height="60" fill="#2452A0"/>
<text x="135" y="2678" font-size="40" letter-spacing="2" fill="#fff">Street</text>
<text x="3184" y="2678" font-size="40" letter-spacing="2" fill="#fff">Structure</text>
<text transform="translate(74,2940) rotate(-90)" text-anchor="middle" font-size="82" letter-spacing="3.5" fill="#000" stroke="#000" stroke-width="1.5">Model making</text>

<g font-size="30" letter-spacing="1" fill="#fff" text-anchor="end">
<text x="750" y="2757">A-1</text><text x="1048" y="2757">A-2</text><text x="1344" y="2757">A-3</text><text x="1656" y="2757">A-4</text><text x="1952" y="2757">A-5</text><text x="2247" y="2757">A-6</text><text x="2544" y="2757">A-7</text><text x="3025" y="2757">A-8</text><text x="3658" y="2757">B-1</text><text x="4168" y="2757">B-2</text><text x="4611" y="2757">B-3</text>
</g>

<svg x="100" y="2773" width="655" height="391">
<rect width="655" height="391" fill="#262626"/>
<g stroke="#4c4c4c" stroke-width="1.5"><path d="M0,22 H655 M0,44 H655 M0,66 H655 M0,88 H655 M0,110 H655 M0,132 H655 M0,154 H655 M0,176 H655 M0,198 H655 M0,220 H655 M0,242 H655 M0,264 H655 M0,286 H655 M0,308 H655 M0,330 H655 M0,352 H655 M0,374 H655 M22,0 V391 M66,0 V391 M110,0 V391 M154,0 V391 M198,0 V391 M242,0 V391 M286,0 V391 M330,0 V391 M374,0 V391 M418,0 V391 M462,0 V391 M506,0 V391 M550,0 V391 M594,0 V391 M638,0 V391"/></g>
<g stroke="#707070" stroke-width="1.5"><path d="M0,380 L400,0 M100,391 L560,0 M260,391 L655,30"/></g>
<g fill="none" stroke="#d8d8d8" stroke-width="6" stroke-linejoin="round">
<path d="M15,65 L175,77 L180,325 L20,337 Z"/><path d="M175,77 L320,42 L330,322 L180,325"/><path d="M320,42 L475,55 L485,327 L330,322"/><path d="M475,55 L640,35 L650,337 L485,327"/>
</g>
<g fill="none" stroke="#b5b5b5" stroke-width="4"><path d="M24,72 L28,330 M188,84 L190,318 M338,50 L340,316 M493,62 L495,320 M640,45 L645,330"/></g>
</svg>
<svg x="816" y="2773" width="236" height="394">
<rect width="236" height="394" fill="#d7d5d0"/><rect y="215" width="236" height="179" fill="#2b2b2b"/>
<g stroke="#555" stroke-width="1.5"><path d="M0,240 H236 M0,265 H236 M0,290 H236 M0,315 H236 M0,340 H236 M0,365 H236 M20,215 V394 M60,215 V394 M100,215 V394 M140,215 V394 M180,215 V394 M220,215 V394"/></g>
<polygon points="44,97 79,64 189,107 184,347 144,367 64,337 49,217" fill="#f1f1f1" stroke="#bcbcbc" stroke-width="3"/>
<path d="M80,70 L130,200 L140,360 M100,150 L170,140" stroke="#d0d0d0" stroke-width="3" fill="none"/>
</svg>
<svg x="1113" y="2773" width="236" height="394">
<rect width="236" height="394" fill="#d8d6d1"/><rect y="250" width="236" height="144" fill="#2b2b2b"/>
<g stroke="#555" stroke-width="1.5"><path d="M0,275 H236 M0,300 H236 M0,325 H236 M0,350 H236 M0,375 H236 M20,250 V394 M60,250 V394 M100,250 V394 M140,250 V394 M180,250 V394 M220,250 V394"/></g>
<polygon points="37,87 77,37 187,57 182,227 127,355 62,287" fill="#f2f2f2" stroke="#c4c4c4" stroke-width="3"/>
<path d="M77,40 L110,150 L127,350" stroke="#d4d4d4" stroke-width="3" fill="none"/>
</svg>
<svg x="1408" y="2768" width="248" height="396">
<rect width="248" height="396" fill="#f2f1ee"/><rect width="57" height="396" fill="#2a2a2a"/>
<polygon points="130,290 248,270 248,396 100,396" fill="#2e2e2e"/>
<polygon points="57,22 192,32 212,92 182,382 72,392 32,302" fill="#b4682c"/>
<path d="M90,80 L150,80 L140,300 L80,310 Z M60,200 L110,190" fill="none" stroke="#6e3512" stroke-width="10"/>
<path d="M170,40 L205,95 L180,380" fill="none" stroke="#7a3a14" stroke-width="14"/>
</svg>
<svg x="1716" y="2768" width="236" height="395">
<rect width="236" height="395" fill="#7e7f74"/><rect y="160" width="236" height="235" fill="#363636"/>
<polygon points="0,32 134,22 184,92 174,332 114,352 94,232 64,232 44,382 0,352" fill="#6e2e14"/>
<polygon points="45,85 150,75 160,300 122,312 102,205 62,212 50,300 40,200" fill="#c27838"/>
</svg>
<svg x="2013" y="2768" width="236" height="395">
<rect width="236" height="395" fill="#ede8de"/>
<polygon points="45,0 125,0 125,110 92,130 86,320 40,320 40,120" fill="#d4703a"/>
<polygon points="0,170 38,170 38,395 0,395" fill="#cf6a36"/>
<polygon points="85,160 236,150 236,395 95,395" fill="#d27640"/>
<g stroke="#6e3014" stroke-width="6" fill="none"><path d="M50,120 H125 M60,30 V100 M105,30 V100 M120,200 V330 M160,190 V330 M100,230 H220 M0,230 H38"/></g>
</svg>
<svg x="2308" y="2764" width="234" height="395">
<rect width="234" height="395" fill="#1d1d1d"/>
<polygon points="0,0 150,0 200,60 220,395 0,395" fill="#d57b44"/>
<rect x="15" y="150" width="50" height="160" fill="#a8552c" stroke="#e8d8b8" stroke-width="7"/>
<rect x="20" y="320" width="50" height="75" fill="#a8552c" stroke="#e8d8b8" stroke-width="7"/>
<path d="M0,120 Q80,130 150,120 M80,300 Q140,290 200,300" stroke="#6e2e12" stroke-width="12" fill="none"/>
</svg>
<svg x="2605" y="2768" width="423" height="386">
<rect width="423" height="386" fill="#d9d9d6"/>
<g stroke="#c2c2be" stroke-width="5"><path d="M20,0 V200 M40,0 V200 M60,0 V200 M80,0 V200 M100,0 V200 M120,0 V200 M140,0 V200 M160,0 V200 M180,0 V200 M200,0 V200 M220,0 V200 M240,0 V200 M260,0 V200 M280,0 V200 M300,0 V200 M320,0 V200 M340,0 V200"/></g>
<rect x="380" y="0" width="43" height="150" fill="#5d7a3e"/>
<polygon points="150,370 423,280 423,386 150,386" fill="#8c7d75"/>
<polygon points="15,60 120,90 200,130 300,140 320,200 423,180 423,290 330,280 250,330 150,370 40,380 10,300" fill="#c56b34"/>
<path d="M15,60 L120,90 L200,130 L300,140 L320,200 L423,180" fill="none" stroke="#4e2410" stroke-width="18"/>
<path d="M80,320 L80,230 Q95,200 110,230 L112,330 Z" fill="#ddd6cc"/>
<path d="M280,300 L285,230 Q300,210 315,230 L312,290 Z" fill="#8a3a1a"/>
</svg>
<svg x="3153" y="2773" width="510" height="391">
<rect width="510" height="391" fill="#e4e4e1"/>
<rect width="60" height="160" fill="#8194ad"/>
<rect x="450" y="0" width="60" height="391" fill="#2a2a2a"/>
<ellipse cx="290" cy="320" rx="260" ry="200" fill="#ececea"/>
<polygon points="0,150 40,80 120,30 220,10 330,20 420,60 480,120 500,230 440,300 400,250 330,170 200,160 100,200 40,280" fill="#b96f3d"/>
<path d="M40,80 L120,30 L220,10 L330,20 L420,60 L480,120" fill="none" stroke="#7a3a1c" stroke-width="20"/>
<g fill="none" stroke="#161616" stroke-width="14">
<ellipse cx="270" cy="300" rx="185" ry="150"/><ellipse cx="270" cy="290" rx="140" ry="115"/><ellipse cx="270" cy="280" rx="100" ry="80"/>
</g>
<g fill="#f6f6f6" stroke="#bbb" stroke-width="2"><rect x="230" y="200" width="50" height="60"/><rect x="270" y="240" width="40" height="50"/><circle cx="300" cy="290" r="20"/></g>
</svg>
<svg x="3723" y="2773" width="445" height="391">
<rect width="445" height="391" fill="#e4e4e2"/>
<polygon points="0,180 90,150 200,160 300,140 420,150 445,170 445,370 400,330 300,290 150,290 60,330 0,380" fill="#a95f32"/>
<ellipse cx="220" cy="320" rx="215" ry="105" fill="#909090"/>
<g fill="none" stroke="#f2f2f2" stroke-width="10"><ellipse cx="220" cy="300" rx="130" ry="58"/><ellipse cx="220" cy="295" rx="90" ry="38"/><ellipse cx="220" cy="290" rx="55" ry="22"/></g>
<path d="M15,340 Q220,450 430,340" fill="none" stroke="#f0f0f0" stroke-width="10"/>
<rect x="200" y="160" width="60" height="130" fill="#e8d44a"/>
<polygon points="215,140 255,120 245,170" fill="#3a7fd8"/>
<rect x="226" y="130" width="6" height="140" fill="#3a7fd8"/>
</svg>
<svg x="4224" y="2773" width="392" height="391">
<rect width="392" height="391" fill="#2c2824"/>
<polygon points="0,70 120,50 260,60 392,90 392,391 0,391" fill="#d6b25a"/>
<g fill="#b0683a" opacity="0.85"><rect x="20" y="110" width="70" height="150"/><rect x="100" y="100" width="60" height="120"/><rect x="250" y="110" width="70" height="140"/><rect x="320" y="120" width="60" height="150"/></g>
<ellipse cx="190" cy="360" rx="170" ry="60" fill="#3b2218"/>
<ellipse cx="190" cy="320" rx="110" ry="45" fill="#efb08e"/>
<rect x="70" y="220" width="75" height="100" fill="#e8d050"/>
<rect x="150" y="170" width="30" height="150" fill="#f0dc55"/>
<polygon points="110,120 160,100 150,160" fill="#4a90e0"/>
<polygon points="190,260 230,230 225,300" fill="#2a5ad0"/>
</svg>

<g fill="#2452A0">
<rect x="100" y="3181" width="27" height="27"/><rect x="816" y="3181" width="27" height="27"/><rect x="1113" y="3181" width="27" height="27"/><rect x="1408" y="3181" width="27" height="27"/><rect x="1716" y="3181" width="27" height="27"/><rect x="2013" y="3181" width="27" height="27"/><rect x="2308" y="3181" width="27" height="27"/><rect x="2732" y="3181" width="27" height="27"/><rect x="3153" y="3181" width="27" height="27"/><rect x="3723" y="3181" width="27" height="27"/><rect x="4224" y="3181" width="27" height="27"/>
</g>
<g font-size="29" letter-spacing="1.5" fill="#000" stroke="#000" stroke-width="0.6">
<text x="147" y="3204">2.5mm coated wire for frame</text>
<text x="865" y="3204">burlap sack</text><text x="865" y="3245">covered once</text>
<text x="1160" y="3204">burlap sack</text><text x="1160" y="3245">covered twice</text>
<text x="1456" y="3204">acrylic paint</text><text x="1456" y="3245">for once</text>
<text x="1763" y="3204">cut out doors</text>
<text x="2060" y="3204">Drawing bricks</text><text x="2060" y="3245">with the pen</text>
<text x="2353" y="3204">Door frames in 3d</text><text x="2353" y="3245">with wooden sticks</text>
<text x="2782" y="3204">Finished look</text>
<text x="3200" y="3204">Simulation</text>
<text x="3772" y="3204">Adjust the scale + paint</text>
<text x="4273" y="3204">Yarn material simulation</text>
</g>
</svg>
</body></html>
